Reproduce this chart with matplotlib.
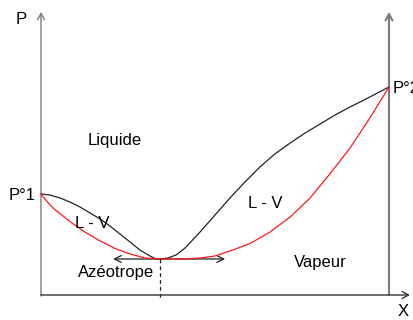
import matplotlib
matplotlib.use("Agg")
import matplotlib.pyplot as plt
from matplotlib.patches import FancyArrowPatch

plt.rcParams['font.family'] = ['Liberation Sans', 'DejaVu Sans']

# Composition (mole fraction of component 2) and pressure (arbitrary units)
p1 = 1.01          # P°1, pure component 1
p2 = 2.08          # P°2, pure component 2
x_az = 0.342       # azeotrope composition
p_az = 0.36        # azeotrope pressure

# Bubble curve (liquid boundary, black)
liq_left_x = [0.0, 0.026, 0.055, 0.083, 0.112, 0.141, 0.170, 0.198, 0.227,
              0.256, 0.284, 0.313, 0.328, 0.342]
liq_left_p = [1.01, 1.00, 0.97, 0.93, 0.88, 0.82, 0.76, 0.69, 0.61,
              0.53, 0.45, 0.39, 0.365, 0.36]
liq_right_x = [0.342, 0.365, 0.388, 0.414, 0.457, 0.500, 0.543, 0.586, 0.629,
               0.672, 0.716, 0.759, 0.802, 0.845, 0.888, 0.931, 1.0]
liq_right_p = [0.36, 0.37, 0.40, 0.47, 0.63, 0.80, 0.97, 1.13, 1.28,
               1.41, 1.52, 1.62, 1.71, 1.80, 1.88, 1.955, 2.08]

# Dew curve (vapour boundary, red)
vap_left_x = [0.0, 0.0115, 0.026, 0.043, 0.063, 0.089, 0.126, 0.170, 0.213,
              0.256, 0.299, 0.342]
vap_left_p = [1.01, 0.96, 0.90, 0.845, 0.79, 0.72, 0.63, 0.54, 0.465,
              0.41, 0.37, 0.36]
vap_right_x = [0.342, 0.399, 0.457, 0.500, 0.543, 0.601, 0.658, 0.716, 0.773,
               0.830, 0.888, 0.945, 1.0]
vap_right_p = [0.36, 0.36, 0.37, 0.39, 0.44, 0.515, 0.63, 0.78, 0.97,
               1.21, 1.47, 1.77, 2.08]

# Horizontal extent of the azeotrope arrow
az_arrow = [0.207, 0.529]

fig = plt.figure(figsize=(4.13, 3.20), dpi=100)
ax = fig.add_axes([0, 0, 1, 1])
ax.set_xlim(-41 / 348, 372 / 348)
ax.set_ylim(-0.25, 2.95)
ax.axis('off')

gray = '#7a7a7a'
p_top = 2.83
x_end = 1.06

def arrow(start, end, style, color, lw):
    ax.add_patch(FancyArrowPatch(start, end, arrowstyle=style, color=color,
                                 lw=lw, mutation_scale=10,
                                 shrinkA=0, shrinkB=0))

# Axes with open arrow heads
arrow((0, -0.01), (0, p_top), '->,head_length=0.45,head_width=0.25', gray, 1.0)
arrow((1.0, 0), (1.0, p_top), '->,head_length=0.45,head_width=0.25', gray, 1.5)
arrow((0, 0), (x_end, 0), '->,head_length=0.45,head_width=0.25', '#333333', 1.0)

# Phase boundaries
ax.plot(liq_left_x, liq_left_p, color='#222222', lw=0.9)
ax.plot(liq_right_x, liq_right_p, color='#222222', lw=0.9)
ax.plot(vap_left_x, vap_left_p, color='#ff1a1a', lw=0.9)
ax.plot(vap_right_x, vap_right_p, color='#ff1a1a', lw=0.9)

# Azeotrope marker: double arrow and dashed drop line
arrow((az_arrow[0], p_az), (az_arrow[1], p_az),
      '<->,head_length=0.5,head_width=0.25', '#222222', 0.9)
ax.plot([x_az, x_az], [p_az, -0.03], color='#222222', lw=0.9, ls=(0, (3, 2.5)))

fs = 12
ax.text(-0.056, 2.76, 'P', fontsize=fs, ha='center', va='center')
ax.text(-0.055, 0.99, 'P°1', fontsize=fs, ha='center', va='center')
ax.text(1.011, 2.07, 'P°2', fontsize=fs, ha='left', va='center')
ax.text(0.213, 1.55, 'Liquide', fontsize=fs, ha='center', va='center')
ax.text(0.147, 0.72, 'L - V', fontsize=fs, ha='center', va='center')
ax.text(0.644, 0.91, 'L - V', fontsize=fs, ha='center', va='center')
ax.text(0.216, 0.22, 'Azéotrope', fontsize=fs, ha='center', va='center')
ax.text(0.804, 0.33, 'Vapeur', fontsize=fs, ha='center', va='center')
ax.text(1.040, -0.16, 'X', fontsize=fs, ha='center', va='center')

fig.savefig('out.png', dpi=100)
